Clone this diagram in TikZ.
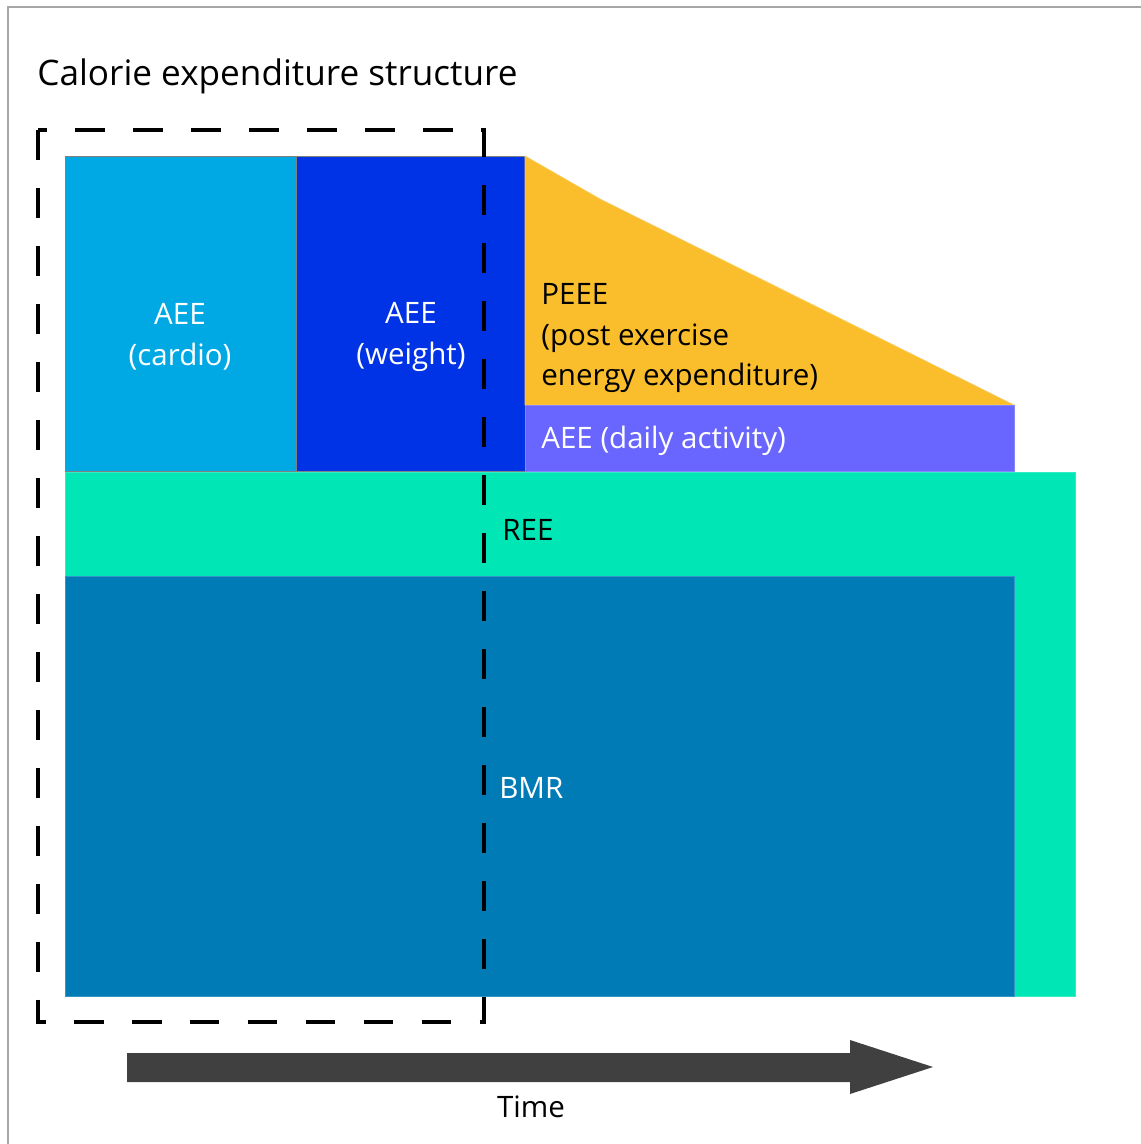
\documentclass[tikz,border=0pt]{standalone}
\usepackage{fontspec}
\setmainfont{Open Sans}
\usetikzlibrary{positioning}
\usepackage{xcolor}
\definecolor{cardio}{RGB}{0,169,228}
\definecolor{weight}{RGB}{0,50,230}
\definecolor{peee}{RGB}{250,190,45}
\definecolor{daily}{RGB}{104,102,255}
\definecolor{ree}{RGB}{0,230,180}
\definecolor{bmr}{RGB}{0,123,182}
\definecolor{timearrow}{RGB}{64,64,64}

\begin{document}
\begin{tikzpicture}[x=0.02cm, y=-0.02cm,
    lbl/.style={inner sep=0pt, font=\fontsize{16.8}{23.2}\selectfont},
    block/.style={draw=#1!80!white, line width=0.4pt}]
  \useasboundingbox (0,0) rectangle (1141,1144);
  % frame
  \draw[black!35, line width=0.8pt] (8,1144) -- (8,7) -- (1141,7);
  \node[lbl, anchor=base west, font=\fontsize{20}{24}\selectfont] (title) at (37,85) {Calorie expenditure structure};
  % resting part
  \fill[ree, block=ree] (65,472) rectangle (1075,996);
  \fill[bmr, block=bmr] (65,576) rectangle (1014,996);
  % exercise part
  \fill[cardio, draw=black!50] (65,156) rectangle (296,471);
  \fill[weight, draw=black!50] (296,156) rectangle (525,471);
  \fill[peee, block=peee] (525,156) -- (600,199) -- (1014,405) -- (525,405) -- cycle;
  \fill[daily, block=daily] (525,405) rectangle (1014,471);
  % labels
  \node[lbl, white, align=center] (cardiotxt) at (180,337) {AEE\\(cardio)};
  \node[lbl, white, align=center] (weighttxt) at (411,337) {AEE\\(weight)};
  \node[lbl, anchor=west, align=left] (peeetxt) at (541,338) {PEEE\\(post exercise\\energy expenditure)};
  \node[lbl, white, anchor=west] (dailytxt) at (541,441) {AEE (daily activity)};
  \node[lbl, anchor=west] (reetxt) at (502,530) {REE};
  \node[lbl, white, anchor=west] (bmrtxt) at (499,788) {BMR};
  % session window
  \draw[line width=2.4pt, dash pattern=on 17pt off 16pt] (38,130) rectangle (484,1022);
  % time axis
  \fill[timearrow] (127,1053) -- (850,1053) -- (850,1040) -- (933,1067) -- (850,1094) -- (850,1082) -- (127,1082) -- cycle;
  \node[lbl] (timetxt) at (531,1107) {Time};
\end{tikzpicture}
\end{document}
